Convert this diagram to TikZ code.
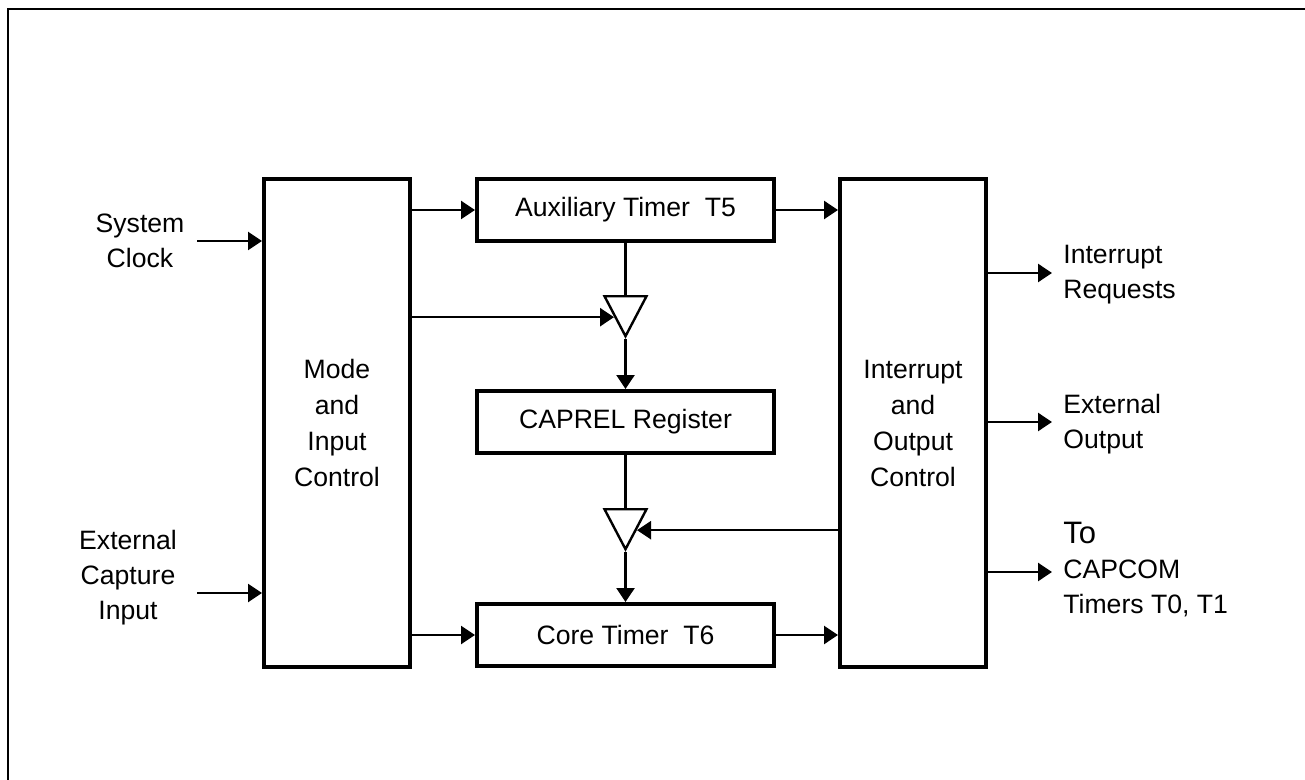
\documentclass[tikz,border=0pt]{standalone}
\usepackage{fontspec}
\setmainfont{Liberation Sans}
\usetikzlibrary{arrows.meta,shapes.geometric}
\tikzset{
  blk/.style={draw, line width=2pt, align=center, inner sep=0pt,
              font=\fontsize{13.3}{18}\selectfont},
  tallbox/.style={blk, minimum width=73pt, minimum height=244pt},
  widebox/.style={blk, minimum width=148.5pt, minimum height=31pt},
  gate/.style={draw, line width=1.2pt, isosceles triangle, isosceles triangle stretches,
               shape border rotate=270, minimum width=21pt, minimum height=20pt, inner sep=0pt,
               anchor=north},
  lbl/.style={align=center, inner sep=0pt, font=\fontsize{13.3}{17.5}\selectfont},
  rlbl/.style={lbl, align=left, anchor=west},
  flow/.style={-{Triangle[length=7pt,width=9pt]}, line width=1.25pt},
  wire/.style={line width=1.25pt},
}

\begin{document}
\begin{tikzpicture}[x=0.5pt, y=-0.5pt]
  \useasboundingbox (0,0) rectangle (1305,780);
  \draw[line width=1.3pt] (1305,9) -- (8,9) -- (8,780);

  \node[tallbox] (mode) at (337,423) {Mode\\ and\\ Input\\ Control};
  \node[tallbox] (intout) at (913,423) {Interrupt\\ and\\ Output\\ Control};
  \node[widebox] (aux) at (625.5,210) {Auxiliary Timer~~T5};
  \node[widebox] (caprel) at (625.5,422) {CAPREL Register};
  \node[widebox] (core) at (625.5,635) {Core Timer~~T6};
  \node[gate] (gateone) at (625.5,295) {};
  \node[gate] (gatetwo) at (625.5,508) {};

  \node[lbl] (clk) at (140,241) {System\\ Clock};
  \node[lbl] (capin) at (128,578) {External\\ Capture\\ Input};
  \node[rlbl] (irq) at (1063,275) {Interrupt\\ Requests};
  \node[rlbl] (extout) at (1063,424) {External\\ Output};
  \node[rlbl] (capcom) at (1063,570) {{\fontsize{15.5}{18}\selectfont To}\\ CAPCOM\\ Timers T0, T1};

  \coordinate (clkstart) at (197,241);
  \coordinate (capstart) at (197,593);
  \coordinate (irqend) at (1052,273);
  \coordinate (extend) at (1052,422);
  \coordinate (capend) at (1052,572);

  \draw[flow] (clkstart) -- (mode.west |- clkstart);
  \draw[flow] (capstart) -- (mode.west |- capstart);
  \draw[flow] (mode.east |- aux) -- (aux);
  \draw[flow] (mode.east |- core) -- (core);
  \draw[flow] (mode.east |- gateone.right side) -- (gateone.right side);
  \draw[wire] (aux) -- (gateone);
  \draw[flow] (gateone) -- (caprel);
  \draw[wire] (caprel) -- (gatetwo);
  \draw[flow] (gatetwo) -- (core);
  \draw[flow] (intout.west |- gatetwo.left side) -- (gatetwo.left side);
  \draw[flow] (aux) -- (intout.west |- aux);
  \draw[flow] (core) -- (intout.west |- core);
  \draw[flow] (intout.east |- irqend) -- (irqend);
  \draw[flow] (intout.east |- extend) -- (extend);
  \draw[flow] (intout.east |- capend) -- (capend);
\end{tikzpicture}
\end{document}
